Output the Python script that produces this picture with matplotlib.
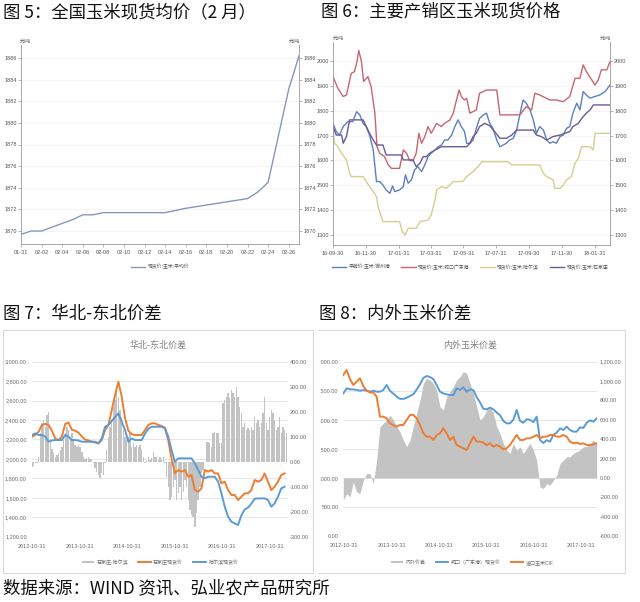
import numpy as np
import pandas as pd
import matplotlib
matplotlib.use('Agg')
import matplotlib.pyplot as plt
from matplotlib.lines import Line2D
from matplotlib.patches import Patch, Rectangle
from matplotlib.transforms import Bbox, TransformedBbox

plt.rcParams['font.family'] = ['Liberation Sans', 'Noto Sans CJK SC', 'DejaVu Sans']
plt.rcParams['axes.unicode_minus'] = False
CJK = ['Noto Sans CJK SC', 'DejaVu Sans']

# ---------------- data ----------------
# Fig 5: national average spot price (Feb), daily from 2018-01-31
c5_start = '2018-01-31'
c5_price = [1869.7, 1870.0, 1870.0, 1870.35, 1870.7, 1871.05, 1871.5, 1871.5, 1871.7, 1871.7,
            1871.7, 1871.7, 1871.7, 1871.7, 1871.7, 1871.9, 1872.1, 1872.25, 1872.4, 1872.55,
            1872.7, 1872.85, 1873.0, 1873.6, 1874.5, 1878.8, 1883.1, 1886.2]
c5_xtick_labels = ['01-31', '02-02', '02-04', '02-06', '02-08', '02-10', '02-12', '02-14',
                   '02-16', '02-18', '02-20', '02-22', '02-24', '02-26']
c5_yticks = [1870, 1872, 1874, 1876, 1878, 1880, 1882, 1884, 1886]
c5_legend = '现货价:玉米:平均价'

# Fig 6: main producing / selling regions (days since 2016-09-30)
c6_start = '2016-09-30'
c6_jz_days = [0, 6, 12, 19, 28, 37, 44, 50, 56, 62, 68, 75, 81, 87, 93, 99, 106, 111, 115, 124,
              131, 135, 140, 146, 152, 158, 165, 171, 177, 183, 190, 196, 202, 208, 214, 221, 227,
              233, 239, 245, 249, 255, 261, 267, 273, 280, 286, 292, 298, 305, 311, 317, 323, 329,
              336, 342, 348, 354, 360, 367, 373, 379, 385, 392, 398, 404, 410, 416, 423, 429, 435,
              441, 447, 454, 460, 466, 472, 479, 488, 497, 507, 516]
c6_jz = [1749, 1716, 1702, 1736, 1756, 1756, 1796, 1783, 1749, 1736, 1702, 1642, 1515, 1515, 1501,
         1481, 1468, 1497, 1475, 1481, 1495, 1542, 1508, 1522, 1562, 1575, 1555, 1582, 1615, 1629,
         1642, 1655, 1662, 1682, 1682, 1702, 1736, 1763, 1736, 1716, 1669, 1669, 1682, 1729, 1769,
         1783, 1790, 1749, 1729, 1682, 1655, 1662, 1669, 1682, 1689, 1722, 1783, 1843, 1830, 1803,
         1763, 1709, 1736, 1722, 1682, 1669, 1675, 1669, 1696, 1702, 1729, 1736, 1790, 1830, 1803,
         1877, 1863, 1850, 1857, 1863, 1877, 1903]
c6_sk_days = [0, 9, 19, 25, 34, 40, 44, 48, 53, 57, 65, 71, 78, 82, 87, 96, 103, 109, 124, 131,
              137, 143, 149, 155, 160, 165, 171, 177, 183, 193, 202, 208, 218, 224, 230, 235, 239,
              245, 249, 255, 261, 267, 273, 286, 305, 311, 323, 336, 348, 360, 370, 376, 385, 404,
              416, 429, 441, 451, 460, 466, 472, 479, 488, 494, 500, 510, 516]
c6_sk = [1937, 1890, 1857, 1863, 1950, 1957, 1990, 2042, 1997, 1917, 1937, 1897, 1790, 1655, 1629,
         1615, 1582, 1568, 1568, 1642, 1629, 1599, 1599, 1629, 1709, 1669, 1696, 1736, 1709, 1749,
         1736, 1749, 1763, 1790, 1843, 1883, 1857, 1843, 1850, 1790, 1796, 1803, 1870, 1883, 1883,
         1783, 1783, 1783, 1783, 1816, 1803, 1870, 1863, 1843, 1843, 1836, 1857, 1930, 1930, 1984,
         1957, 1934, 1903, 1923, 1964, 1964, 1997]
c6_hrb_days = [0, 3, 9, 16, 25, 31, 34, 56, 62, 68, 75, 81, 84, 90, 93, 124, 129, 134, 140, 155,
               162, 177, 183, 190, 193, 202, 211, 224, 242, 249, 261, 270, 277, 326, 333, 385, 392,
               398, 410, 413, 423, 429, 435, 444, 451, 457, 463, 479, 485, 488, 516]
c6_hrb = [1723, 1669, 1655, 1629, 1602, 1548, 1535, 1535, 1515, 1495, 1475, 1454, 1414, 1374, 1354,
          1354, 1314, 1300, 1327, 1327, 1354, 1360, 1381, 1441, 1481, 1495, 1488, 1515, 1515, 1535,
          1555, 1575, 1595, 1595, 1582, 1582, 1548, 1535, 1522, 1488, 1488, 1501, 1522, 1535, 1589,
          1609, 1655, 1655, 1642, 1709, 1709]
c6_sjz_days = [0, 6, 16, 19, 25, 31, 56, 62, 68, 75, 81, 93, 99, 127, 131, 149, 155, 162, 168, 174,
               180, 190, 202, 249, 255, 261, 267, 273, 283, 292, 301, 311, 323, 333, 342, 373, 379,
               388, 398, 410, 423, 441, 447, 457, 466, 472, 479, 485, 516]
c6_sjz = [1736, 1702, 1702, 1669, 1696, 1763, 1763, 1736, 1709, 1682, 1662, 1662, 1622, 1622, 1602,
          1602, 1575, 1589, 1615, 1615, 1629, 1642, 1655, 1655, 1669, 1696, 1709, 1736, 1749, 1739,
          1716, 1689, 1689, 1702, 1722, 1722, 1702, 1696, 1682, 1696, 1702, 1716, 1736, 1749, 1776,
          1790, 1803, 1823, 1823]
c6_xtick_labels = ['16-09-30', '16-11-30', '17-01-31', '17-03-31', '17-05-31', '17-07-31',
                   '17-09-30', '17-11-30', '18-01-31']
c6_yticks = [1300, 1400, 1500, 1600, 1700, 1800, 1900, 2000]
c6_names = ['平舱价:玉米:锦州港', '现货价:玉米:蛇口广东港', '现货价:玉米:哈尔滨', '现货价:玉米:石家庄']

# Fig 7: North China - Northeast spread
c7_start = '2012-10-31'
c7_spread = [-20, -16, -7, -7, 20, 113, 153, 167, 140, 187, 200, 90, 50, 33, 20, 25, 35, 45, 60, 87,
             113, 140, 127, 87, 113, 87, 65, 60, 67, 60, 40, 20, 10, 15, 20, 10, 7, -7, -25, -40,
             -55, -67, -45, -53, -7, 47, 100, 140, 167, 220, 247, 287, 260, 207, 180, 127, 100, 87, 100, 113,
             60, 73, 60, 67, 60, 67, 47, 20, -7, 7, 20, 7, 13, 40, 20, 20, 7, 20, 7, 20,
             -7, -60, -100, -153, -140, -100, -73, -153, -127, -100, -153, -120, -73, -100, -153, -193, -213, -220, -260, -207,
             -153, -100, -47, -33, 0, 80, 80, 73, 60, 113, 120, 113, 113, 73, 73, 233, 247, 260, 273, 253,
             287, 273, 260, 300, 260, 220, 193, 140, 153, 127, 133, 127, 140, 127, 180, 153, 167, 140, 153, 193,
             260, 153, 127, 180, 207, 193, 167, 127, 140, 180, 113, 140, 127, 113]
c7_sjz = [2229, 2246, 2280, 2349, 2360, 2350, 2290, 2210, 2194, 2230, 2360, 2375, 2300, 2290, 2270, 2230,
          2200, 2190, 2177, 2177, 2160, 2194, 2297, 2349, 2503, 2657, 2794, 2640, 2420, 2290, 2255, 2246,
          2246, 2246, 2297, 2349, 2366, 2366, 2349, 2340, 2320, 2190, 2000, 1851, 1886, 1869, 1886, 1817,
          1834, 1680, 1663, 1697, 1886, 1869, 1886, 1851, 1851, 1749, 1766, 1680, 1629, 1629, 1577, 1611,
          1646, 1646, 1680, 1783, 1766, 1783, 1851, 1766, 1680, 1714, 1766, 1834, 1851]
c7_hrb = [2246, 2263, 2246, 2246, 2229, 2177, 2190, 2194, 2194, 2194, 2246, 2229, 2194, 2194, 2190, 2177,
          2177, 2177, 2177, 2170, 2160, 2211, 2331, 2349, 2390, 2430, 2469, 2383, 2297, 2177, 2211, 2194,
          2194, 2194, 2260, 2310, 2331, 2331, 2331, 2331, 2314, 2229, 2091, 1971, 2006, 2006, 2006, 2006,
          2006, 1954, 1886, 1817, 1800, 1817, 1817, 1817, 1766, 1646, 1509, 1406, 1354, 1337, 1320, 1420,
          1480, 1500, 1540, 1590, 1594, 1594, 1594, 1577, 1509, 1543, 1611, 1697, 1714]
c7_left_ticks = [1200, 1400, 1600, 1800, 2000, 2200, 2400, 2600, 2800, 3000]
c7_right_ticks = [-300, -200, -100, 0, 100, 200, 300, 400]
c7_names = ['石家庄-哈尔滨', '石家庄现货价', '哈尔滨现货价']

# Fig 8: domestic vs imported corn spread
c8_start = '2012-10-23'
c8_sk = [2455, 2541, 2524, 2524, 2513, 2501, 2513, 2501, 2484, 2501, 2484, 2484, 2513, 2600, 2500, 2450,
         2400, 2360, 2360, 2380, 2410, 2440, 2520, 2610, 2720, 2753, 2736, 2700, 2600, 2484, 2455, 2438,
         2427, 2427, 2541, 2513, 2558, 2484, 2524, 2513, 2390, 2300, 2190, 2180, 2210, 2180, 2125, 2080,
         1980, 1939, 1939, 2000, 2169, 1980, 1950, 2010, 2000, 1960, 2054, 1653, 1600, 1650, 1624, 1739,
         1780, 1853, 1825, 1882, 1825, 1796, 1796, 1870, 1860, 1950, 1990, 1968, 2025]
c8_cif = [2771, 2857, 2700, 2599, 2656, 2713, 2580, 2500, 2470, 2470, 2398, 2054, 2054, 2025, 1939, 1910,
          1882, 1910, 1910, 1997, 2083, 2083, 2025, 1910, 1767, 1710, 1710, 1653, 1739, 1767, 1853, 1767,
          1653, 1710, 1566, 1538, 1509, 1480, 1595, 1710, 1624, 1624, 1607, 1566, 1595, 1538, 1566, 1538,
          1492, 1509, 1566, 1653, 1739, 1653, 1653, 1681, 1681, 1710, 1739, 1681, 1710, 1710, 1739, 1739,
          1710, 1710, 1739, 1710, 1624, 1595, 1607, 1584, 1595, 1566, 1566, 1578, 1595]
c8_gap = [-230, -162, -196, -41, -145, -162, -24, 45, 45, -58, 182, 529, 563, 598, 650, 598, 529, 477,
          391, 322, 391, 529, 667, 804, 976, 1028, 1011, 976, 907, 735, 701, 839, 890, 942, 1011, 1045,
          1097, 1080, 976, 873, 735, 598, 632, 701, 735, 667, 529, 460, 357, 288, 253, 357, 288, 322, 253,
          305, 357, 288, 182, -93, -110, -58, -76, -24, 28, 148, 182, 217, 217, 253, 270, 288, 322, 322,
          357, 391, 357]
c8_left_ticks = [0, 500, 1000, 1500, 2000, 2500, 3000]
c8_right_ticks = [-600, -400, -200, 0, 200, 400, 600, 800, 1000, 1200]
c8_names = ['内外价差', '蛇口（广东港）现货价', '进口玉米CIF']

year_ticks = ['2012-10-31', '2013-10-31', '2014-10-31', '2015-10-31', '2016-10-31', '2017-10-31']

# ---------------- figure ----------------
W, H = 640, 602
fig = plt.figure(figsize=(6.4, 6.02), dpi=100)


def px_axes(l, t, r, b):
    return fig.add_axes([l / W, 1 - b / H, (r - l) / W, (b - t) / H])


def fx(x):
    return x / W


def fy(y):
    return 1 - y / H


title_kw = dict(fontsize=12.5, va='center', ha='left', family=CJK, color='#111111')
fig.text(fx(3), fy(12), '图 5：全国玉米现货均价（2 月）', **title_kw)
fig.text(fx(321), fy(12), '图 6：主要产销区玉米现货价格', **title_kw)
fig.text(fx(3), fy(314), '图 7：华北-东北价差', **title_kw)
fig.text(fx(319), fy(314), '图 8：内外玉米价差', **title_kw)
fig.text(fx(3), fy(588), '数据来源：WIND 资讯、弘业农产品研究所', **title_kw)

AXC = '#9a9a9a'
TXC = '#555555'


def style_wind(ax):
    ax.spines['top'].set_visible(False)
    for s in ['left', 'right', 'bottom']:
        ax.spines[s].set_color(AXC)
        ax.spines[s].set_linewidth(0.6)
    ax.tick_params(axis='y', left=True, right=True, labelleft=True, labelright=True,
                   length=2, width=0.5, color=AXC, labelsize=4, labelcolor=TXC, pad=1)
    ax.tick_params(axis='x', length=2, width=0.5, color=AXC, labelsize=4, labelcolor=TXC, pad=2)
    ax.grid(axis='y', color='#f0f0f0', lw=0.5)
    ax.set_axisbelow(True)


# ---- Fig 5 ----
ax5 = px_axes(21, 45, 299, 244)
c5_dates = pd.date_range(c5_start, periods=len(c5_price), freq='D')
c5_color = '#8696c0'
ax5.plot(c5_dates, c5_price, color=c5_color, lw=1.0)
ax5.set_xlim(c5_dates[0], c5_dates[-1])
ax5.set_ylim(1868.8, 1887.2)
ax5.set_yticks(c5_yticks)
ax5.set_yticklabels([str(v) for v in c5_yticks])
ax5.set_xticks(pd.to_datetime(['2018-' + s for s in c5_xtick_labels]))
ax5.set_xticklabels(c5_xtick_labels)
style_wind(ax5)
fig.text(fx(20), fy(44), '元/吨', fontsize=3.5, ha='left', va='bottom', color=TXC)
fig.text(fx(300), fy(44), '元/吨', fontsize=3.5, ha='right', va='bottom', color=TXC)
fig.legend(handles=[Line2D([], [], color=c5_color, lw=1.0)], labels=[c5_legend], loc='center',
           bbox_to_anchor=(fx(160), fy(267)), fontsize=3.5, frameon=False, handlelength=3,
           handletextpad=0.5, labelcolor=TXC)

# ---- Fig 6 ----
ax6 = px_axes(333, 42, 610, 245)
t0 = pd.Timestamp(c6_start)
c6_colors = ['#5d7fc2', '#c8656f', '#d2d18c', '#6a5b98']
series6 = [(c6_jz_days, c6_jz), (c6_sk_days, c6_sk), (c6_hrb_days, c6_hrb), (c6_sjz_days, c6_sjz)]
for (d, v), c in zip(series6, c6_colors):
    ax6.plot(t0 + pd.to_timedelta(d, unit='D'), v, color=c, lw=1.0)
ax6.set_xlim(t0, t0 + pd.Timedelta(days=516))
ax6.set_ylim(1260, 2076)
ax6.set_yticks(c6_yticks)
ax6.set_yticklabels([str(v) for v in c6_yticks])
ax6.set_xticks(pd.to_datetime(['20' + s for s in c6_xtick_labels]))
ax6.set_xticklabels(c6_xtick_labels)
style_wind(ax6)
fig.text(fx(333), fy(41), '元/吨', fontsize=3.5, ha='left', va='bottom', color=TXC)
fig.text(fx(611), fy(41), '元/吨', fontsize=3.5, ha='right', va='bottom', color=TXC)
fig.legend(handles=[Line2D([], [], color=c, lw=1.0) for c in c6_colors], labels=c6_names,
           loc='center', bbox_to_anchor=(fx(470), fy(267)), ncol=4, fontsize=3.5, frameon=False,
           handlelength=3, handletextpad=0.5, columnspacing=2.2, labelcolor=TXC)

# ---- Excel-like charts helper ----
ORANGE = '#ed7d31'
BLUE = '#5b9bd5'
GRAY = '#c3c3c3'
ETXT = '#6b6b6b'


def excel_axes(l, t, r, b, left_lim, right_lim, left_ticks, right_ticks, xlim):
    axg = px_axes(l, t, r, b)
    axb = px_axes(l, t, r, b)
    axl = px_axes(l, t, r, b)
    for a in (axg, axb, axl):
        a.set_xlim(*xlim)
        for s in a.spines.values():
            s.set_visible(False)
    axb.patch.set_visible(False)
    axl.patch.set_visible(False)
    axg.set_ylim(*left_lim)
    axl.set_ylim(*left_lim)
    axb.set_ylim(*right_lim)
    axg.set_yticks(left_ticks)
    axg.set_yticklabels(['{:,.2f}'.format(v) for v in left_ticks])
    axg.grid(axis='y', color='#e3e3e3', lw=0.6)
    axg.tick_params(axis='y', length=0, labelsize=4, labelcolor=ETXT, pad=3.5)
    axg.set_xticks(pd.to_datetime(year_ticks))
    axg.set_xticklabels(year_ticks)
    axg.tick_params(axis='x', length=0, labelsize=4, labelcolor=ETXT, pad=5)
    axb.yaxis.tick_right()
    axb.set_yticks(right_ticks)
    axb.set_yticklabels(['{:,.2f}'.format(v) for v in right_ticks])
    axb.tick_params(axis='y', length=0, labelsize=4, labelcolor=ETXT, pad=2)
    axb.set_xticks([])
    axl.set_xticks([])
    axl.set_yticks([])
    return axg, axb, axl


# ---- Fig 7 ----
fig.add_artist(Rectangle((fx(3), fy(573)), 310 / W, 243 / H, transform=fig.transFigure,
                         fill=False, ec='#d9d9d9', lw=0.8))
s7 = pd.Timestamp(c7_start)
g7, b7, l7 = excel_axes(31.7, 361.7, 287, 536.7, (1200, 3000), (-300, 400), c7_left_ticks,
                        c7_right_ticks, (s7 - pd.Timedelta(days=2), s7 + pd.Timedelta(days=1958)))
bar_dates = s7 + pd.to_timedelta(np.arange(len(c7_spread)) * 12.76, unit='D')
line_dates = s7 + pd.to_timedelta(np.arange(len(c7_sjz)) * 25.52, unit='D')
b7.bar(bar_dates, c7_spread, width=10.5, color=GRAY, lw=0)
l7.plot(line_dates, c7_sjz, color=ORANGE, lw=1.4)
l7.plot(line_dates, c7_hrb, color=BLUE, lw=1.4)
fig.text(fx(158), fy(345), '华北-东北价差', fontsize=6.5, color='#808080', ha='center', va='center',
         family=CJK)
fig.legend(handles=[Patch(fc=GRAY, ec='none'), Line2D([], [], color=ORANGE, lw=1.4),
                    Line2D([], [], color=BLUE, lw=1.4)], labels=c7_names, loc='center',
           bbox_to_anchor=(fx(160), fy(562)), ncol=3, fontsize=3.6, frameon=False, handlelength=2.5,
           handleheight=0.5, handletextpad=0.5, columnspacing=2.0, labelcolor=ETXT)

# ---- Fig 8 ----
for seg in [((fx(318), fx(625)), (fy(330), fy(330))), ((fx(625), fx(625)), (fy(330), fy(573))),
            ((fx(318), fx(625)), (fy(573), fy(573)))]:
    fig.add_artist(Line2D(seg[0], seg[1], transform=fig.transFigure, color='#d9d9d9', lw=0.8))
s8 = pd.Timestamp(c8_start)
dates8 = s8 + pd.to_timedelta(np.arange(len(c8_sk)) * 25.74, unit='D')
g8, b8, l8 = excel_axes(343.3, 361.7, 596.7, 536, (0, 3000), (-600, 1200), c8_left_ticks,
                        c8_right_ticks, (dates8[0], dates8[-1]))
b8.fill_between(dates8, 0, c8_gap, color=GRAY, lw=0)
l8.plot(dates8, c8_sk, color=BLUE, lw=1.4)
l8.plot(dates8, c8_cif, color=ORANGE, lw=1.4)
fig.text(fx(470), fy(345), '内外玉米价差', fontsize=6.5, color='#808080', ha='center', va='center',
         family=CJK)
fig.legend(handles=[Patch(fc=GRAY, ec='none'), Line2D([], [], color=BLUE, lw=1.4),
                    Line2D([], [], color=ORANGE, lw=1.4)], labels=c8_names, loc='center',
           bbox_to_anchor=(fx(472), fy(562)), ncol=3, fontsize=3.6, frameon=False, handlelength=2.5,
           handleheight=0.5, handletextpad=0.5, columnspacing=2.0, labelcolor=ETXT)

fig.canvas.draw()
clip = TransformedBbox(Bbox.from_extents(320 / W, 0, 1, 1), fig.transFigure)
for lab in g8.get_yticklabels():
    lab.set_clip_on(True)
    lab.set_clip_box(clip)

fig.savefig('out.png', dpi=100, facecolor='white')
